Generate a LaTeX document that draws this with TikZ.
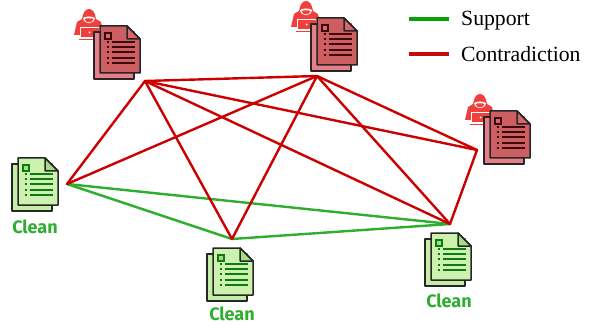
\documentclass[tikz,border=0pt]{standalone}
\usepackage{fontspec}
\setmainfont{Liberation Serif}
\newfontfamily\cleanfont{Fira Sans}
\usetikzlibrary{calc}
\definecolor{attackred}{HTML}{F0403C}
\definecolor{edgered}{HTML}{CC0000}
\definecolor{edgegreen}{HTML}{2FAD2F}
\definecolor{keygreen}{HTML}{0AA00A}
\definecolor{keyred}{HTML}{C40C0C}
\definecolor{redfront}{HTML}{CD5F63}
\definecolor{redback}{HTML}{E87F88}
\definecolor{redfold}{HTML}{D9666B}
\definecolor{redink}{HTML}{3A0A0C}
\definecolor{greenfront}{HTML}{CDF2AF}
\definecolor{greenback}{HTML}{C4EDA8}
\definecolor{greenfold}{HTML}{A6DC88}
\definecolor{greenink}{HTML}{0F7A14}
\tikzstyle{edge} = [draw, line width=2.4pt, line cap=round]
\tikzstyle{contra} = [edge, edgered]
\tikzstyle{support} = [edge, edgegreen]
\tikzstyle{keyline} = [draw, line width=3.6pt]
\tikzstyle{keytext} = [anchor=base west, inner sep=0pt, font=\fontsize{21.7}{23}\selectfont]
\tikzstyle{cleantext} = [inner sep=0pt, text=edgegreen, font=\cleanfont\bfseries\fontsize{18}{20}\selectfont]
\tikzstyle{page} = [draw=black!85, line width=1.5pt, line join=round]
\tikzset{
  pics/docstack/.style={code={
    \path[page, fill=#1back] (-6,6) rectangle (34,53);
    \path[page, fill=#1front] (0,0) -- (27,0) -- (40,13) -- (40,47) -- (0,47) -- cycle;
    \path[page, fill=#1fold] (27,0) -- (40,13) -- (27,13) -- cycle;
    \draw[#1ink, line width=1.3pt, fill=#1fold] (5,7) rectangle (11,13);
    \foreach \y in {16,21,26,32,37} {
      \draw[#1ink, line width=1.3pt] (6.5,\y) -- (8.5,\y) (11.5,\y) -- (35,\y);
    }
  }},
  pics/attacker/.style={code={
    \fill[attackred] (0,-8) .. controls (-4,-8) and (-6,-4) .. (-7,2)
      -- (-12,5) -- (-15,18) -- (15,18) -- (12,5) -- (7,2)
      .. controls (6,-4) and (4,-8) .. (0,-8) -- cycle;
    \fill[white] (-6,1) .. controls (-3,-1) and (3,-1) .. (6,1) .. controls (5,8) and (-5,8) .. (-6,1) -- cycle;
    \fill[attackred] (-4.5,2) .. controls (-2,1) and (2,1) .. (4.5,2) .. controls (3.5,6.5) and (-3.5,6.5) .. (-4.5,2) -- cycle;
    \draw[white, line width=0.9pt, fill=attackred] (-9,10.5) rectangle (10,20.5);
    \fill[attackred] (-10,21.8) rectangle (11,23.2);
    \fill[white] (0.5,15.5) circle (1);
  }}
}
\begin{document}
\begin{tikzpicture}[x=1pt,y=-1pt]
    \useasboundingbox (0,0) rectangle (592,326);
    % Place hubs
    \coordinate (attackA) at (145,81);
    \coordinate (attackB) at (317,76);
    \coordinate (attackC) at (477,150);
    \coordinate (cleanA) at (67,184);
    \coordinate (cleanB) at (232,239);
    \coordinate (cleanC) at (450,224);
    % Draw edges
    \path [support] (cleanA) -- (cleanB);
    \path [support] (cleanA) -- (cleanC);
    \path [support] (cleanB) -- (cleanC);
    \foreach \from/\to in {attackA/attackB,attackA/attackC,attackA/cleanA,attackA/cleanB,attackA/cleanC,
        attackB/attackC,attackB/cleanA,attackB/cleanB,attackB/cleanC,attackC/cleanC}
      \path [contra] (\from) -- (\to);
    % Place documents
    \pic at (89,17) {attacker};
    \pic at (100,26) {docstack=red};
    \pic at (306,9) {attacker};
    \pic at (317,18) {docstack=red};
    \pic at (480,102) {attacker};
    \pic at (490,111) {docstack=red};
    \pic at (18,158) {docstack=green};
    \pic at (213,248) {docstack=green};
    \pic at (431,233) {docstack=green};
    \node [cleantext] (labelA) at (35,227) {Clean};
    \node [cleantext] (labelB) at (232,314) {Clean};
    \node [cleantext] (labelC) at (449,301) {Clean};
    % Legend
    \coordinate (keyA) at (409,19);
    \coordinate (keyB) at (449,19);
    \coordinate (keyC) at (409,54);
    \coordinate (keyD) at (449,54);
    \path [keyline, keygreen] (keyA) -- (keyB);
    \path [keyline, keyred] (keyC) -- (keyD);
    \node [keytext] (support) at (461,25.5) {Support};
    \node [keytext] (contradiction) at (461,62) {Contradiction};
\end{tikzpicture}
\end{document}
